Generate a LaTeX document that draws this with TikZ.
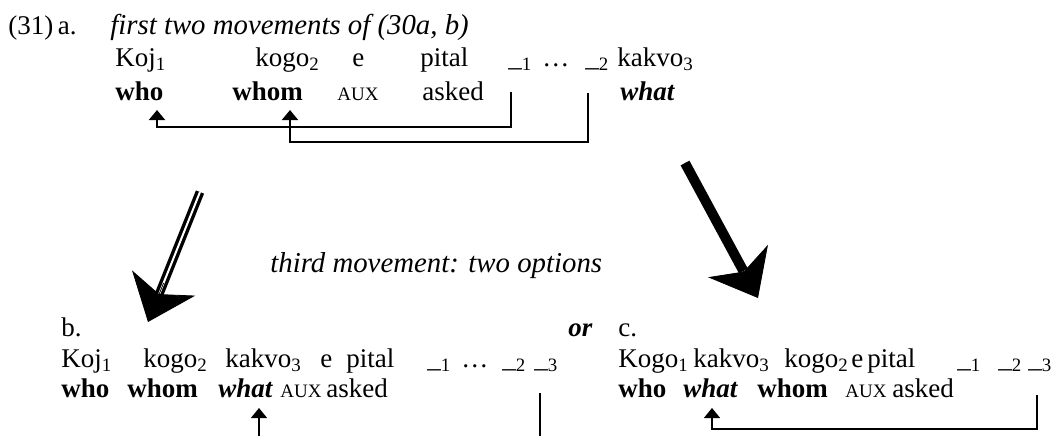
\documentclass[tikz,border=0pt]{standalone}
\usepackage{fontspec}
\setmainfont{Liberation Serif}
\usetikzlibrary{arrows.meta,calc}
\newcommand{\ix}[1]{\textsubscript{#1}}
\newcommand{\gapmark}[1]{\_\textsubscript{#1}}
\tikzset{%
  >={Triangle[width=8pt,length=5pt]},
          word/.style = {inner sep=0pt, anchor=base west,
                         font=\fontsize{13.5}{16}\selectfont},
         gloss/.style = {word, font=\fontsize{13.5}{16}\selectfont\bfseries},
       glossit/.style = {word, font=\fontsize{13.5}{16}\selectfont\bfseries\itshape},
          auxw/.style = {word, font=\fontsize{9.5}{12}\selectfont},
          note/.style = {word, font=\fontsize{14.4}{17}\selectfont\itshape},
         link0/.style = {line width=0.9pt},
         link1/.style = {line width=0.7pt},
       dblbody/.style = {double, double distance=1pt, line width=1.7pt},
     solidbody/.style = {line width=5pt},
       bighead/.style = {-{Stealth[length=21pt, width=34pt, inset=6pt, line width=0.4pt]}},
}
\begin{document}
\begin{tikzpicture}[x=0.5pt, y=-0.5pt]
  \useasboundingbox (0,0) rectangle (1055,436);

  \node (aNum)   [word]    at (8,34)    {(31)\,a.};
  \node (aTitle) [note]    at (110,34)  {first two movements of (30a, b)};

  \node (aKoj)   [word]    at (115,66)  {Koj\ix{1}};
  \node (aKogo)  [word]    at (255,66)  {kogo\ix{2}};
  \node (aE)     [word]    at (352,66)  {e};
  \node (aPital) [word]    at (420,66)  {pital};
  \node (aGapA)  [word]    at (508,66)  {\gapmark{1}};
  \node (aDots)  [word]    at (542,66)  {\ldots};
  \node (aGapB)  [word]    at (585,66)  {\gapmark{2}};
  \node (aKakvo) [word]    at (617,66)  {kakvo\ix{3}};

  \node (aWho)   [gloss]   at (115,100) {who};
  \node (aWhom)  [gloss]   at (232,100) {whom};
  \node (aAux)   [auxw]    at (337,100) {AUX};
  \node (aAsked) [word]    at (422,100) {asked};
  \node (aWhat)  [glossit] at (620,100) {what};

  \coordinate (aFromA) at (511,92);
  \coordinate (aToA)   at (157,110);
  \coordinate (aFromB) at (588,93);
  \coordinate (aToB)   at (290,110);
  \draw[link0, ->] (aFromA) -- ++(0,35) -| (aToA);
  \draw[link0, ->] (aFromB) -- ++(0,49) -| (aToB);

  \coordinate (leftTop) at (200,192);
  \coordinate (leftTip) at (148,322);
  \draw[dblbody] (leftTop) -- ($(leftTop)!0.8!(leftTip)$);
  \draw[bighead] ($(leftTop)!0.7!(leftTip)$) -- (leftTip);

  \coordinate (rightTop) at (685,163);
  \coordinate (rightTip) at (758,298);
  \draw[solidbody] (rightTop) -- ($(rightTop)!0.8!(rightTip)$);
  \draw[bighead] ($(rightTop)!0.7!(rightTip)$) -- (rightTip);

  \node (third)  [note]    at (270,272) {third movement: two options};

  \node (bLab)   [word]    at (61,336)  {b.};
  \node (orWord) [glossit] at (568,336) {or};
  \node (cLab)   [word]    at (618,336) {c.};

  \node (bKoj)   [word]    at (61,367)  {Koj\ix{1}};
  \node (bKogo)  [word]    at (143,367) {kogo\ix{2}};
  \node (bKakvo) [word]    at (225,367) {kakvo\ix{3}};
  \node (bE)     [word]    at (320,367) {e};
  \node (bPital) [word]    at (346,367) {pital};
  \node (bGapA)  [word]    at (427,367) {\gapmark{1}};
  \node (bDots)  [word]    at (461,367) {\ldots};
  \node (bGapB)  [word]    at (502,367) {\gapmark{2}};
  \node (bGapC)  [word]    at (534,367) {\gapmark{3}};

  \node (bWho)   [gloss]   at (61,397)  {who};
  \node (bWhom)  [gloss]   at (127,397) {whom};
  \node (bWhat)  [glossit] at (218,397) {what};
  \node (bAux)   [auxw]    at (280,397) {AUX};
  \node (bAsked) [word]    at (326,397) {asked};

  \coordinate (bFrom)   at (259,436);
  \coordinate (bTo)     at (259,408);
  \coordinate (bCutTop) at (540,393);
  \coordinate (bCutEnd) at (540,436);
  \draw[link1, ->] (bFrom) -- (bTo);
  \draw[link1]     (bCutTop) -- (bCutEnd);

  \node (cKogo)  [word]    at (618,367) {Kogo\ix{1}};
  \node (cKakvo) [word]    at (693,367) {kakvo\ix{3}};
  \node (cKogoB) [word]    at (784,367) {kogo\ix{2}};
  \node (cE)     [word]    at (851,367) {e};
  \node (cPital) [word]    at (867,367) {pital};
  \node (cGapA)  [word]    at (957,367) {\gapmark{1}};
  \node (cGapB)  [word]    at (998,367) {\gapmark{2}};
  \node (cGapC)  [word]    at (1028,367) {\gapmark{3}};

  \node (cWho)   [gloss]   at (618,397) {who};
  \node (cWhat)  [glossit] at (683,397) {what};
  \node (cWhom)  [gloss]   at (757,397) {whom};
  \node (cAux)   [auxw]    at (845,397) {AUX};
  \node (cAsked) [word]    at (892,397) {asked};

  \coordinate (cFrom) at (1037,395);
  \coordinate (cTo)   at (712,408);
  \draw[link1, ->] (cFrom) -- ++(0,34) -| (cTo);
\end{tikzpicture}
\end{document}
